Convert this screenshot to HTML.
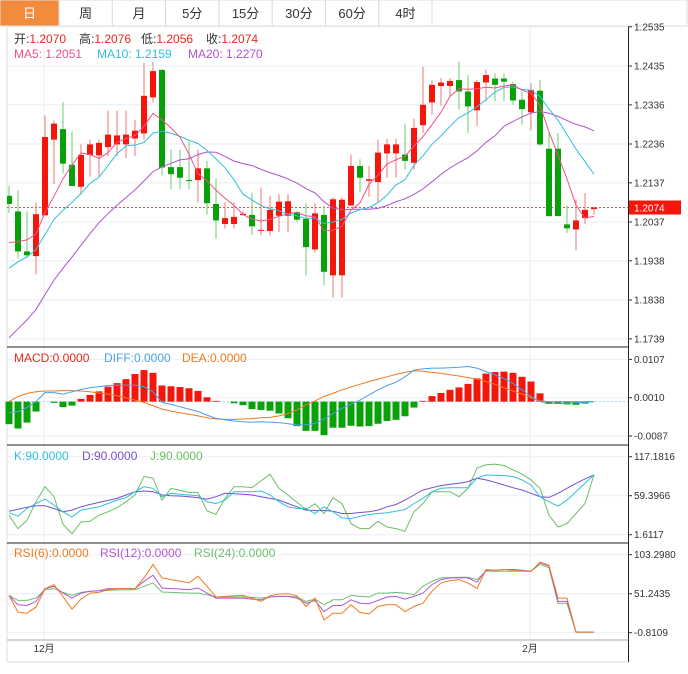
<!DOCTYPE html>
<html><head><meta charset="utf-8"><style>
body{margin:0;background:#fff;font-family:"Liberation Sans","Noto Sans CJK SC",sans-serif;}
svg{display:block}
</style></head><body>
<svg id="c" width="688" height="674" xmlns="http://www.w3.org/2000/svg" font-family="Liberation Sans, Noto Sans CJK SC, sans-serif">
<defs><clipPath id="mainclip"><rect x="7" y="27" width="621" height="320"/></clipPath></defs>
<g id="tabs"></g>
<g id="grid"></g>
<g id="main" clip-path="url(#mainclip)"></g>
<g id="macd"></g>
<g id="kdj"></g>
<g id="rsi"></g>
<g id="axes"></g>
<g id="legends" font-size="12">
<g>
<text x="14" y="43" fill="#333">开:<tspan fill="#f0251a">1.2070</tspan></text>
<text x="79" y="43" fill="#333">高:<tspan fill="#f0251a">1.2076</tspan></text>
<text x="141" y="43" fill="#333">低:<tspan fill="#f0251a">1.2056</tspan></text>
<text x="206" y="43" fill="#333">收:<tspan fill="#f0251a">1.2074</tspan></text>
</g>
<g>
<text x="14" y="58" fill="#f0508a">MA5: 1.2051</text>
<text x="97" y="58" fill="#30c0dc">MA10: 1.2159</text>
<text x="188" y="58" fill="#b050d0">MA20: 1.2270</text>
</g>
<g>
<text x="14" y="362" fill="#f0251a">MACD:0.0000</text>
<text x="104" y="362" fill="#4a9ff0">DIFF:0.0000</text>
<text x="182" y="362" fill="#f07a20">DEA:0.0000</text>
</g>
<g>
<text x="14" y="460" fill="#30c0dc">K:90.0000</text>
<text x="82" y="460" fill="#7a4fd0">D:90.0000</text>
<text x="150" y="460" fill="#6cc060">J:90.0000</text>
</g>
<g>
<text x="14" y="557" fill="#f07a20">RSI(6):0.0000</text>
<text x="100" y="557" fill="#b455d6">RSI(12):0.0000</text>
<text x="194" y="557" fill="#6cc070">RSI(24):0.0000</text>
</g>
</g>
</svg>
<script>
const tabLabels=["日","周","月","5分","15分","30分","60分","4时"];
const priceTicks=[1.2535,1.2435,1.2336,1.2236,1.2137,1.2037,1.1938,1.1838,1.1739];
const macdTicks=[0.0107,0.0010,-0.0087];
const kdjTicks=[117.1816,59.3966,1.6117];
const rsiTicks=[103.2980,51.2435,-0.8109];
const monthLabels=["12月","2月"];
const monthIndex=[4,58];
const lastPrice=1.2074;
const opens=[1.2104,1.2064,1.1962,1.1950,1.2054,1.2247,1.2274,1.2183,1.2127,1.2208,1.2207,1.2228,1.2235,1.2235,1.2250,1.2263,1.2355,1.2425,1.2177,1.2177,1.2144,1.2144,1.2174,1.2083,1.2032,1.2032,1.2055,1.2055,1.2015,1.2014,1.2053,1.2053,1.2062,1.2045,1.1967,1.2055,1.1901,1.1901,1.2079,1.2180,1.2142,1.2139,1.2212,1.2212,1.2209,1.2188,1.2284,1.2342,1.2384,1.2384,1.2399,1.2370,1.2322,1.2393,1.2403,1.2403,1.2389,1.2349,1.2317,1.2372,1.2224,1.2224,1.2031,1.2018,1.2047,1.2070];
const highs=[1.2129,1.2118,1.2064,1.2087,1.2309,1.2296,1.2343,1.2269,1.2235,1.2247,1.2247,1.2321,1.2321,1.2321,1.2298,1.2443,1.2446,1.2427,1.2222,1.2222,1.2243,1.2222,1.2193,1.2149,1.2087,1.2087,1.2066,1.2112,1.2125,1.2104,1.2108,1.2108,1.2066,1.2085,1.2085,1.2079,1.2100,1.2100,1.2209,1.2197,1.2180,1.2247,1.2249,1.2249,1.2288,1.2300,1.2433,1.2398,1.2404,1.2404,1.2446,1.2412,1.2399,1.2426,1.2416,1.2416,1.2395,1.2370,1.2391,1.2399,1.2264,1.2264,1.2079,1.2095,1.2111,1.2076];
const lows=[1.2060,1.1944,1.1946,1.1903,1.2054,1.2134,1.2161,1.2129,1.2107,1.2153,1.2153,1.2205,1.2205,1.2200,1.2205,1.2247,1.2342,1.2156,1.2121,1.2121,1.2121,1.2087,1.2056,1.1994,1.2020,1.2020,1.2053,1.2004,1.2003,1.2003,1.2011,1.2011,1.2036,1.1901,1.1960,1.1876,1.1844,1.1844,1.2079,1.2112,1.2101,1.2087,1.2150,1.2150,1.2171,1.2171,1.2264,1.2311,1.2334,1.2359,1.2323,1.2264,1.2281,1.2345,1.2345,1.2345,1.2336,1.2285,1.2271,1.2231,1.2052,1.2052,1.2009,1.1965,1.2032,1.2056];
const closes=[1.2083,1.1962,1.1952,1.2057,1.2254,1.2288,1.2186,1.2129,1.2208,1.2235,1.2239,1.2260,1.2258,1.2260,1.2270,1.2359,1.2422,1.2176,1.2159,1.2150,1.2142,1.2174,1.2085,1.2041,1.2047,1.2050,1.2058,1.2026,1.2017,1.2068,1.2089,1.2090,1.2043,1.1973,1.2059,1.1910,1.2095,1.2094,1.2180,1.2150,1.2146,1.2214,1.2235,1.2235,1.2193,1.2277,1.2336,1.2387,1.2393,1.2397,1.2370,1.2332,1.2394,1.2412,1.2387,1.2395,1.2347,1.2325,1.2374,1.2235,1.2052,1.2052,1.2021,1.2041,1.2068,1.2074];
const priorCloses=[1.150,1.150,1.152,1.150,1.155,1.158,1.156,1.160,1.165,1.168,1.180,1.183,1.186,1.188,1.190,1.195,1.193,1.198,1.198];
const macdBars=[-0.0057,-0.0068,-0.0053,-0.0025,0,-0.0003,-0.0014,-0.0010,0.0007,0.0017,0.0026,0.0038,0.0047,0.0057,0.0070,0.0080,0.0073,0.0041,0.0039,0.0037,0.0034,0.0027,0.0011,0.0002,0,-0.0004,-0.0009,-0.0019,-0.0021,-0.0023,-0.0030,-0.0042,-0.0062,-0.0074,-0.0074,-0.0085,-0.0066,-0.0066,-0.0061,-0.0063,-0.0062,-0.0056,-0.0049,-0.0046,-0.0037,-0.0015,0.0002,0.0014,0.0022,0.0030,0.0036,0.0045,0.0059,0.0071,0.0075,0.0076,0.0073,0.0063,0.0051,0.0021,-0.0006,-0.0006,-0.0007,-0.0008,-0.0005,0];
const diffVals=[-0.0028,-0.0025,-0.0015,0,0.0023,0.0023,0.0019,0.0025,0.0031,0.0035,0.0038,0.0041,0.0042,0.0042,0.0042,0.0038,0.0025,-0.0002,-0.0007,-0.0013,-0.0019,-0.0025,-0.0034,-0.0042,-0.0046,-0.0049,-0.0051,-0.0052,-0.0051,-0.0052,-0.0053,-0.0056,-0.0059,-0.0059,-0.0055,-0.0044,-0.0030,-0.0017,-0.0007,0.0004,0.0017,0.0030,0.0041,0.0049,0.0063,0.0080,0.0083,0.0085,0.0085,0.0086,0.0087,0.0089,0.0085,0.0076,0.0068,0.0059,0.0046,0.0030,0.0013,0,-0.0004,-0.0004,-0.0004,-0.0003,-0.0002,0];
const deaVals=[0,0.0013,0.0021,0.0025,0.0027,0.0027,0.0028,0.0028,0.0027,0.0025,0.0022,0.0019,0.0015,0.0010,0.0004,-0.0002,-0.0010,-0.0019,-0.0024,-0.0028,-0.0032,-0.0036,-0.0041,-0.0044,-0.0045,-0.0045,-0.0044,-0.0043,-0.0041,-0.0040,-0.0036,-0.0030,-0.0021,-0.0008,0.0002,0.0013,0.0021,0.0030,0.0037,0.0044,0.0051,0.0057,0.0063,0.0069,0.0074,0.0078,0.0077,0.0074,0.0072,0.0068,0.0065,0.0061,0.0057,0.0051,0.0044,0.0035,0.0027,0.0019,0.0010,0.0002,0,0,0,0,0,0];
const kVals=[34.0,29.0,40.4,47.9,54.4,45.4,35.5,28.0,38.0,40.4,42.9,47.9,52.9,56.4,65.3,72.8,70.3,57.9,62.9,61.4,60.4,59.4,50.4,47.9,52.9,65.3,65.3,65.3,66.3,60.4,50.4,42.9,40.4,40.4,33.0,42.9,35.5,26.5,25.5,29.0,31.5,33.0,34.0,36.5,39.0,47.9,55.4,65.3,70.3,71.3,71.3,71.3,85.3,90.2,89.7,89.2,87.8,82.8,75.3,57.9,50.4,43.9,52.9,65.3,77.8,90.2];
const dVals=[36.5,39.4,42.4,44.4,44.4,40.4,35.5,38.0,42.9,46.4,49.4,52.4,55.4,60.4,65.3,66.3,65.3,60.4,59.4,58.9,57.9,56.4,54.4,57.9,62.9,62.4,61.4,60.4,57.9,55.4,52.9,47.9,42.9,38.0,37.5,37.5,36.5,33.0,33.0,34.5,35.5,38.0,42.9,46.4,52.9,60.4,67.8,71.3,74.3,76.3,77.8,80.3,85.3,82.8,79.3,75.3,71.3,67.8,62.9,57.9,56.9,62.9,70.3,77.8,84.3,90.2];
const jVals=[30.5,10.6,23.0,50.4,72.8,57.9,17.0,3.1,20.5,21.5,30.5,35.5,41.4,50.4,60.4,87.8,85.3,52.9,70.3,67.3,64.3,64.3,37.0,31.5,55.4,72.8,72.8,71.3,81.3,91.2,70.3,60.4,49.4,39.0,47.4,33.0,56.4,47.9,18.0,10.6,10.6,21.5,13.1,10.6,6.6,35.5,47.9,65.3,65.3,65.3,57.9,70.3,100.2,105.2,106.2,104.2,97.7,91.2,82.8,70.3,30.5,13.1,18.0,33.0,47.9,90.2];
const rsi6=[49.0,26.6,25.2,33.3,58.0,63.4,47.7,30.6,44.1,52.1,53.0,56.6,58.0,58.0,58.0,72.3,90.3,72.3,70.1,67.8,65.6,74.6,61.1,46.8,47.7,48.5,49.0,45.4,40.9,48.5,50.8,51.2,48.5,34.2,45.4,16.2,25.2,25.2,36.4,26.1,24.3,34.2,36.4,36.4,27.4,34.2,38.6,54.4,65.6,68.7,70.1,65.6,58.0,83.5,82.6,83.5,82.6,81.7,80.9,93.4,88.9,45.4,45.4,0,0,0];
const rsi12=[49.0,36.4,35.5,40.9,58.0,61.1,52.1,45.4,52.1,54.4,55.3,58.0,58.0,58.0,58.0,67.8,75.9,58.9,58.0,57.5,56.6,58.9,52.1,45.4,45.4,45.4,45.4,44.1,43.1,46.8,47.7,47.7,45.4,38.6,42.2,27.4,35.5,35.5,43.1,38.6,37.8,42.2,46.8,47.7,44.1,47.7,52.1,63.4,70.1,72.3,72.3,72.3,66.5,82.6,82.6,83.5,83.5,82.6,81.3,92.5,88.0,40.9,40.9,0,0,0];
const rsi24=[49.0,42.3,42.3,45.4,56.6,58.0,53.0,49.0,53.0,54.4,55.3,55.7,56.2,56.6,56.6,61.1,65.6,53.5,53.0,52.6,52.1,52.1,49.9,46.8,46.8,46.8,46.8,46.3,45.4,46.8,47.7,47.7,46.8,40.9,44.1,36.4,43.1,43.1,49.0,47.7,46.8,52.1,52.1,53.0,52.1,49.9,61.1,67.8,72.3,72.8,73.2,73.2,70.1,81.3,81.3,81.3,81.3,81.3,81.3,90.3,85.8,38.6,38.6,0,0,0];

const NS="http://www.w3.org/2000/svg";
function mk(parent,tag,attrs){const e=document.createElementNS(NS,tag);for(const k in attrs)e.setAttribute(k,attrs[k]);parent.appendChild(e);return e;}
const X=i=>9+9*i;
const yP=p=>66+(1.2435-p)*3920;
const yM=v=>397.7-(v-0.0010)*3948;
const yK=v=>495.7-(v-59.3966)*0.675;
const yR=v=>593.7-(v-51.2435)*0.749;
const RED="#f5160b",GREEN="#08a208";

const tabs=document.getElementById('tabs');
tabLabels.forEach((t,i)=>{
  const x=i===0?0:59+(i-1)*53.3, w=i===0?59:53.3;
  const r=mk(tabs,'rect',{x:x,y:0,width:w,height:26,fill:i===0?'#f28b3c':'#fff',stroke:'#dcdcdc','stroke-width':1});
  
  
  const tx=mk(tabs,'text',{x:x+w/2,y:18,'text-anchor':'middle','font-size':13,fill:i===0?'#fff':'#333'});
  tx.textContent=t;
  
  
});
mk(tabs,'rect',{x:432,y:0,width:255,height:26,fill:'#fff',stroke:'#dcdcdc'});

const grid=document.getElementById('grid');
mk(grid,'line',{x1:7,y1:27,x2:7,y2:662,stroke:'#dcdcdc'});
mk(grid,'line',{x1:7,y1:662,x2:628,y2:662,stroke:'#dcdcdc'});
priceTicks.forEach(p=>mk(grid,'line',{x1:7,y1:yP(p),x2:628,y2:yP(p),stroke:'#e9eff4'}));
macdTicks.forEach(p=>mk(grid,'line',{x1:7,y1:yM(p),x2:628,y2:yM(p),stroke:'#e9eff4'}));
kdjTicks.forEach(p=>mk(grid,'line',{x1:7,y1:yK(p),x2:628,y2:yK(p),stroke:'#e9eff4'}));
rsiTicks.forEach(p=>mk(grid,'line',{x1:7,y1:yR(p),x2:628,y2:yR(p),stroke:'#e9eff4'}));
monthIndex.forEach(i=>mk(grid,'line',{x1:X(i)-1,y1:27,x2:X(i)-1,y2:640,stroke:'#e9eff4'}));

const main=document.getElementById('main');
mk(main,'line',{x1:7,y1:yP(lastPrice),x2:628,y2:yP(lastPrice),stroke:'#f05040','stroke-dasharray':'2,2'});
function ma(n){const all=priorCloses.concat(closes);return closes.map((c,i)=>{const j=i+priorCloses.length;let s=0;for(let k=j-n+1;k<=j;k++)s+=all[k];return s/n;});}
function line(g,vals,yf,color,name){const d=vals.map((v,i)=>(i?'L':'M')+X(i)+','+yf(v).toFixed(1)).join('');const p=mk(g,'path',{d:d,fill:'none',stroke:color,'stroke-width':1});return p;}
closes.forEach((c,i)=>{
  const o=opens[i],up=c>=o,col=up?RED:GREEN;
  const w=mk(main,'line',{x1:X(i),y1:yP(highs[i]),x2:X(i),y2:yP(lows[i]),stroke:up?'#f07a70':'#6ccc6c'});
  
  
  const t=yP(Math.max(o,c)),b=yP(Math.min(o,c));
  const r=mk(main,'rect',{x:X(i)-3,y:t,width:6,height:Math.max(1,b-t),fill:col});
  
  
});
line(main,ma(20),yP,'#b050d0','ma20-line');
line(main,ma(10),yP,'#30c0dc','ma10-line');
line(main,ma(5),yP,'#f0508a','ma5-line');

const mg=document.getElementById('macd');
mk(mg,'line',{x1:7,y1:yM(0),x2:628,y2:yM(0),stroke:'#9ad8e8','stroke-dasharray':'2,2'});
macdBars.forEach((v,i)=>{
  if(v===0)return;
  const y0=yM(0),y1=yM(v);
  const r=mk(mg,'rect',{x:X(i)-3.5,y:Math.min(y0,y1),width:7,height:Math.abs(y1-y0),fill:v>0?RED:GREEN});
  
  
});
line(mg,deaVals,yM,'#f07a20','dea-line');
line(mg,diffVals,yM,'#4a9ff0','diff-line');

const kg=document.getElementById('kdj');
line(kg,jVals,yK,'#6cc060','j-line');
line(kg,dVals,yK,'#7a4fd0','d-line');
line(kg,kVals,yK,'#30c0dc','k-line');

const rg=document.getElementById('rsi');
line(rg,rsi24,yR,'#6cc070','rsi24-line');
line(rg,rsi12,yR,'#b455d6','rsi12-line');
line(rg,rsi6,yR,'#f07a20','rsi6-line');

const ax=document.getElementById('axes');
[347,445,543].forEach(y=>mk(ax,'line',{x1:7,y1:y,x2:628,y2:y,stroke:'#222'}));
mk(ax,'line',{x1:7,y1:640,x2:628,y2:640,stroke:'#aaa'});
mk(ax,'line',{x1:628.5,y1:27,x2:628.5,y2:662,stroke:'#222'});
function ticks(arr,yf,fmt,name){arr.forEach(v=>{const y=yf(v);mk(ax,'line',{x1:628,y1:y,x2:632,y2:y,stroke:'#333'});const t=mk(ax,'text',{x:634,y:y+3.5,'font-size':10,fill:'#333'});t.textContent=fmt(v);});}
ticks(priceTicks,yP,v=>v.toFixed(4),'price-tick-label');
ticks(macdTicks,yM,v=>v.toFixed(4),'macd-tick-label');
ticks(kdjTicks,yK,v=>v.toFixed(4),'kdj-tick-label');
ticks(rsiTicks,yR,v=>v.toFixed(4),'rsi-tick-label');
const pb=mk(ax,'rect',{x:629,y:yP(lastPrice)-7,width:52,height:14,fill:'#f5160b'});


const pt=mk(ax,'text',{x:634,y:yP(lastPrice)+4,'font-size':10,fill:'#fff'});pt.textContent=lastPrice.toFixed(4);


monthLabels.forEach((m,k)=>{const t=mk(ax,'text',{x:X(monthIndex[k])-1,y:652,'font-size':10,fill:'#333','text-anchor':'middle'});t.textContent=m;

});
</script>
</body></html>
